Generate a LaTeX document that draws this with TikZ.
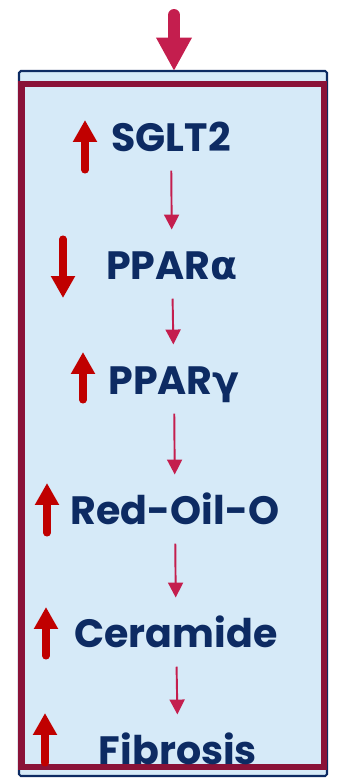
\documentclass[tikz,border=0pt]{standalone}
\usepackage{fontspec}
\setmainfont{Poppins}
\newfontfamily\grk{DejaVu Sans}
\usetikzlibrary{arrows.meta}
\definecolor{navy}{HTML}{0D2B63}
\definecolor{paleblue}{HTML}{D6EAF8}
\definecolor{maroon}{HTML}{8A1238}
\definecolor{crimson}{HTML}{C41E4E}
\definecolor{upred}{HTML}{C00000}

\tikzset{
  lbl/.style={font=\fontsize{22.5}{25}\selectfont\bfseries, text=navy,
              inner sep=0pt, text height=17pt, text depth=0pt},
  flow/.style={-{Triangle[width=8.5pt,length=8.5pt]}, crimson,
               line width=1.1pt, shorten <=10.5pt, shorten >=11.5pt},
  trend/.style={-{Triangle[width=13pt,length=12.5pt]}, upred,
                line width=4pt, line cap=round},
  entry/.style={-{Triangle[width=19pt,length=19pt]}, crimson,
                line width=6.8pt, line cap=round}
}

\begin{document}
\begin{tikzpicture}[x=0.02cm, y=-0.02cm]
  \useasboundingbox (0,0) rectangle (337,778);
  % frame
  \filldraw[fill=paleblue, draw=navy, line width=1.2pt, rounded corners=1pt]
    (19,71) rectangle (327,776);
  \draw[maroon, line width=3.8pt] (21.5,84) rectangle (324,767);
  \coordinate (top) at (174,71);
  \coordinate (feed) at (174,15);
  \draw[entry] (feed) -- (top);

  % labels
  \node[lbl] (sglt)     at (171,137) {SGLT2};
  \node[lbl] (ppara)    at (172,265) {PPAR{\grk α}};
  \node[lbl] (pparg)    at (174,380) {PPAR{\grk γ}};
  \node[lbl] (redoil)   at (175,510) {Red-Oil-O};
  \node[lbl] (ceramide) at (176,633) {Ceramide};
  \node[lbl] (fibrosis) at (178,750) {Fibrosis};

  % cascade
  \draw[flow] (sglt)     -- (ppara);
  \draw[flow] (ppara)    -- (pparg);
  \draw[flow] (pparg)    -- (redoil);
  \draw[flow] (redoil)   -- (ceramide);
  \draw[flow] (ceramide) -- (fibrosis);

  % up / down markers
  \draw[trend] (85,170) -- (85,120);
  \draw[trend] (63,239) -- (63,298);
  \draw[trend] (83,400) -- (83,352);
  \draw[trend] (47,533) -- (47,483);
  \draw[trend] (46,656) -- (46,607);
  \draw[trend] (45,763) -- (45,713);
\end{tikzpicture}
\end{document}
